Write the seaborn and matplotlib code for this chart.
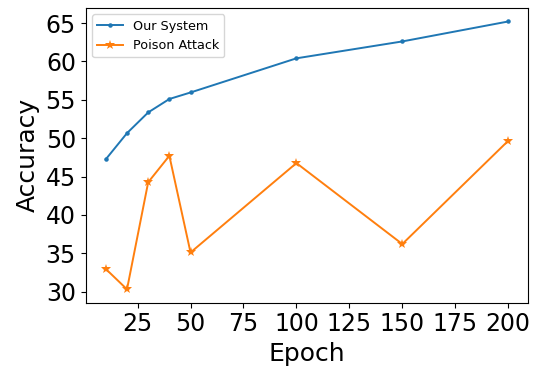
import matplotlib
matplotlib.use("Agg")
import matplotlib.pyplot as plt
import seaborn as sns
import pandas as pd

epochs = [10, 20, 30, 40, 50, 100, 150, 200]
our_system = [47.25, 50.65, 53.35, 55.1, 55.95, 60.4, 62.6, 65.2]
poison_attack = [32.95, 30.3, 44.25, 47.7, 35.1, 46.75, 36.2, 49.65]

df = pd.DataFrame({"Epoch": epochs, "Our System": our_system, "Poison Attack": poison_attack})

fig = plt.figure(figsize=(5.37, 3.68), dpi=100)
ax = fig.add_axes([0.1596, 0.1774, 0.8242, 0.8006])

sns.lineplot(data=df, x="Epoch", y="Our System", marker=".", markersize=6.5,
             linewidth=1.4, markeredgewidth=0, color="#1f77b4", label="Our System", ax=ax)
sns.lineplot(data=df, x="Epoch", y="Poison Attack", marker="*", markersize=7.5,
             linewidth=1.4, markeredgewidth=0, color="#ff7f0e", label="Poison Attack", ax=ax)

ax.set_xticks([25, 50, 75, 100, 125, 150, 175, 200])
ax.set_yticks([30, 35, 40, 45, 50, 55, 60, 65])
ax.tick_params(labelsize=17)
ax.set_xlabel("Epoch", fontsize=18)
ax.set_ylabel("Accuracy", fontsize=18)
ax.legend(loc="upper left", fontsize=9.2)

fig.savefig("out.png", dpi=100)
